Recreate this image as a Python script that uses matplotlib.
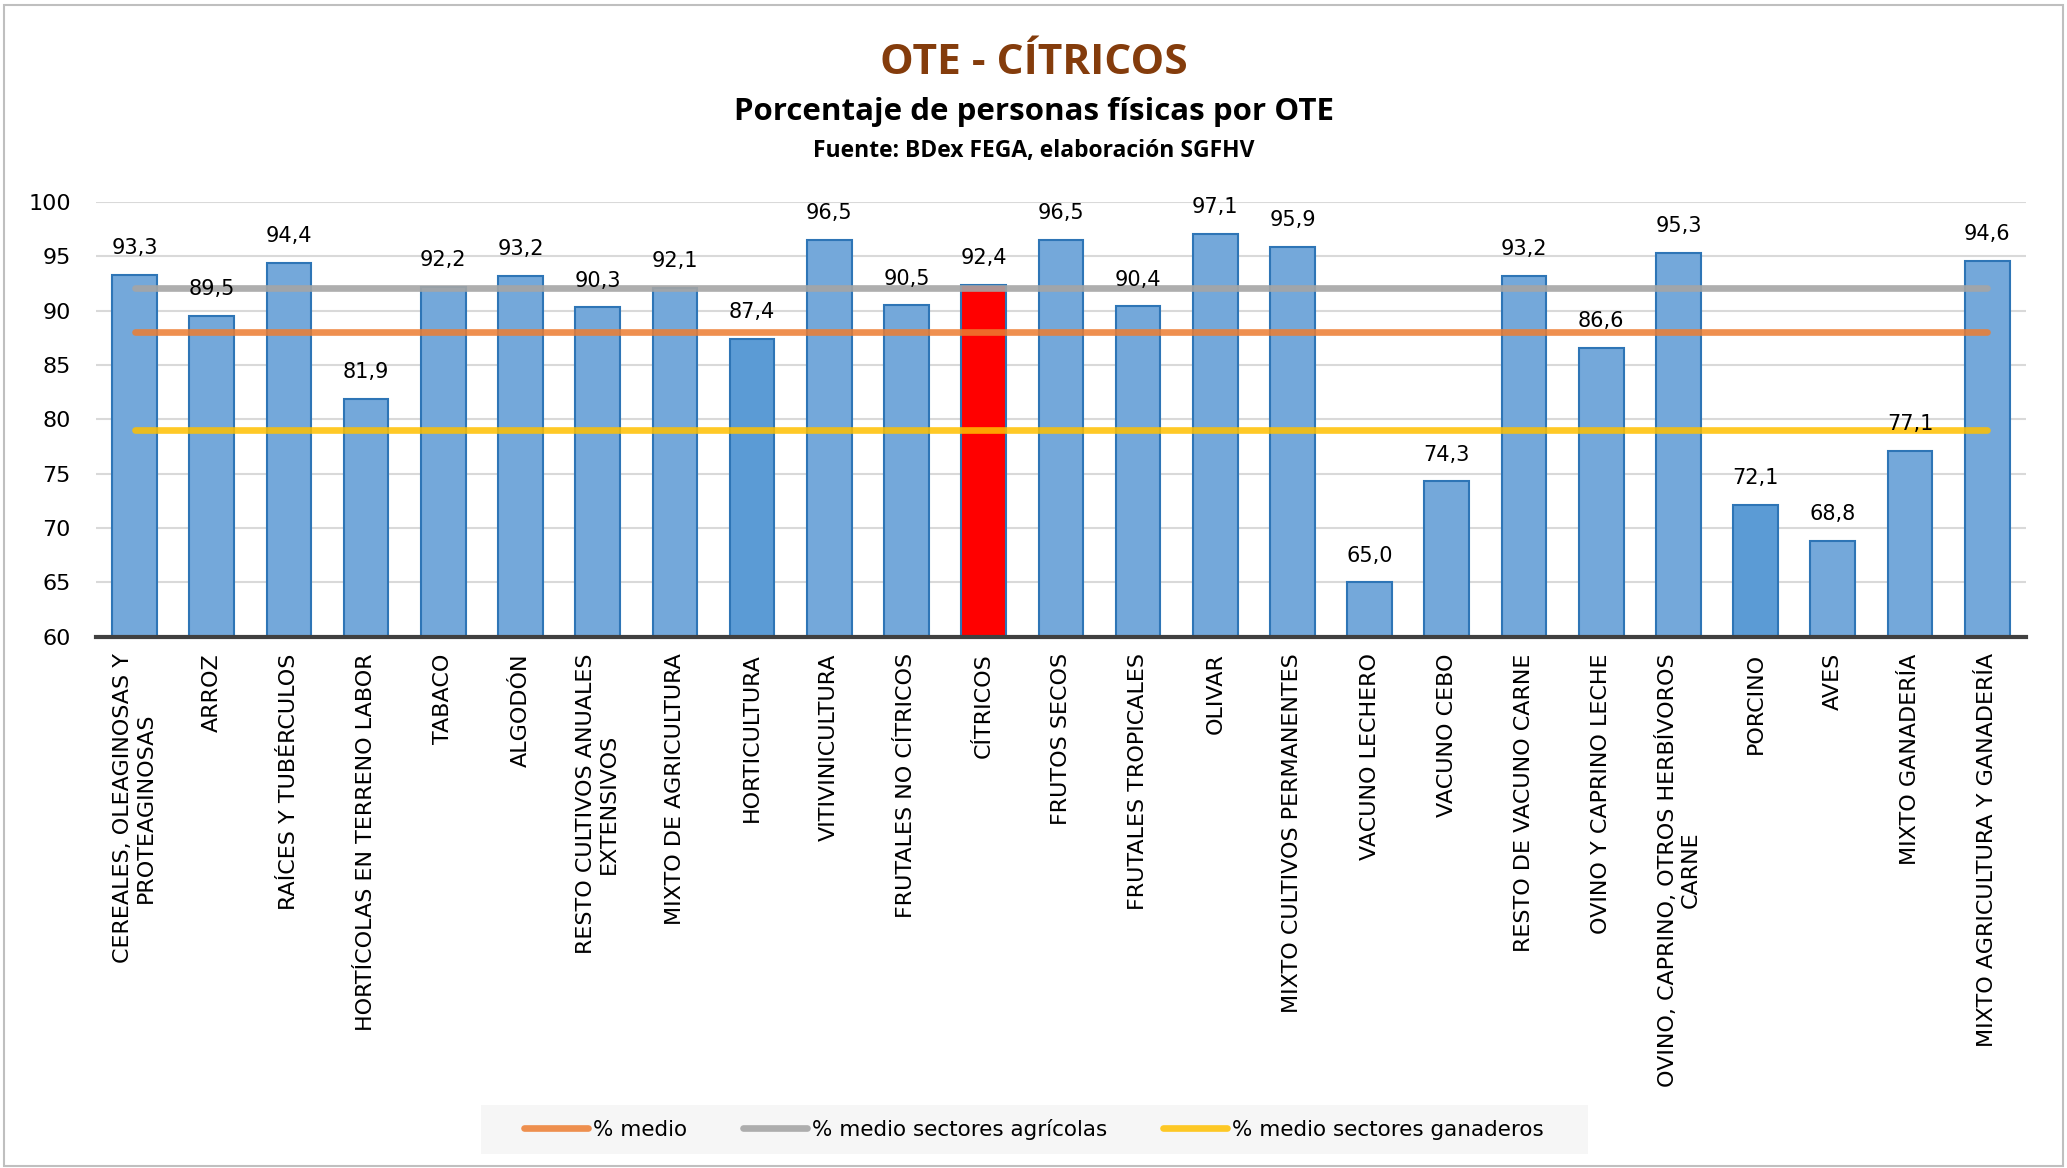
import matplotlib
matplotlib.use("Agg")
import matplotlib.pyplot as plt
from matplotlib.patches import Rectangle

# datos
categorias = [
    "CEREALES, OLEAGINOSAS Y\nPROTEAGINOSAS", "ARROZ", "RAÍCES Y TUBÉRCULOS",
    "HORTÍCOLAS EN TERRENO LABOR", "TABACO", "ALGODÓN",
    "RESTO CULTIVOS ANUALES\nEXTENSIVOS", "MIXTO DE AGRICULTURA", "HORTICULTURA",
    "VITIVINICULTURA", "FRUTALES NO CÍTRICOS", "CÍTRICOS", "FRUTOS SECOS",
    "FRUTALES TROPICALES", "OLIVAR", "MIXTO CULTIVOS PERMANENTES",
    "VACUNO LECHERO", "VACUNO CEBO", "RESTO DE VACUNO CARNE",
    "OVINO Y CAPRINO LECHE", "OVINO, CAPRINO, OTROS HERBÍVOROS\nCARNE",
    "PORCINO", "AVES", "MIXTO GANADERÍA", "MIXTO AGRICULTURA Y GANADERÍA",
]
valores = [93.3, 89.5, 94.4, 81.9, 92.2, 93.2, 90.3, 92.1, 87.4, 96.5, 90.5,
           92.4, 96.5, 90.4, 97.1, 95.9, 65.0, 74.3, 93.2, 86.6, 95.3, 72.1,
           68.8, 77.1, 94.6]
medio = 88.0
medio_agricolas = 92.1
medio_ganaderos = 79.0

colores = []
for c in categorias:
    if c == "CÍTRICOS":
        colores.append("#FF0000")
    elif c in ("HORTICULTURA", "PORCINO"):
        colores.append("#5B9BD5")
    else:
        colores.append("#74A8DA")

plt.rcParams["font.family"] = ["DejaVu Sans"]

fig = plt.figure(figsize=(20.67, 11.68), dpi=100)
ax = fig.add_axes([0.0464, 0.455, 0.9337, 0.372])

x = list(range(len(categorias)))
ax.bar(x, [v - 60 for v in valores], bottom=60, width=0.58, color=colores,
       edgecolor="#2E75B6", linewidth=1.5, zorder=2)

for xi, v in zip(x, valores):
    ax.annotate(f"{v:.1f}".replace(".", ","), (xi, v), xytext=(0, 12),
                textcoords="offset points", ha="center", va="bottom",
                fontsize=15, color="#000000", zorder=5)

n = len(categorias) - 1
ax.plot([0, n], [medio, medio], color="#ED7D31", lw=4.8, alpha=0.85,
        solid_capstyle="round", zorder=3, label="% medio")
ax.plot([0, n], [medio_agricolas, medio_agricolas], color="#A5A5A5", lw=4.8,
        alpha=0.9, solid_capstyle="round", zorder=3,
        label="% medio sectores agrícolas")
ax.plot([0, n], [medio_ganaderos, medio_ganaderos], color="#FFC000", lw=4.8,
        alpha=0.85, solid_capstyle="round", zorder=3,
        label="% medio sectores ganaderos")

ax.set_ylim(60, 100)
ax.set_xlim(-0.5, len(categorias) - 0.5)
ax.set_yticks(range(60, 101, 5))
ax.yaxis.grid(True, color="#D9D9D9", lw=1.5, zorder=0)
ax.set_axisbelow(True)
for s in ("left", "right", "top"):
    ax.spines[s].set_visible(False)
ax.spines["bottom"].set_color("#404040")
ax.spines["bottom"].set_linewidth(3)
ax.spines["bottom"].set_zorder(4)
ax.tick_params(axis="y", length=0, labelsize=16, pad=18)
ax.tick_params(axis="x", length=0, pad=12)
ax.set_xticks(x)
ax.set_xticklabels(categorias, rotation=90, fontsize=16, ha="center",
                   va="top", multialignment="center")

titulos = ["Open Sans", "DejaVu Sans"]
fig.text(0.5, 0.946, "OTE - CÍTRICOS", ha="center", va="center",
         fontsize=30.5, fontweight="bold", color="#843C0C", family=titulos)
fig.text(0.5, 0.904, "Porcentaje de personas físicas por OTE", ha="center",
         va="center", fontsize=22.5, fontweight="bold", family=titulos)
fig.text(0.5, 0.8705, "Fuente: BDex FEGA, elaboración SGFHV", ha="center",
         va="center", fontsize=16.5, fontweight="bold", family=titulos)

# fondo de la leyenda
fig.patches.append(Rectangle((0.2328, 0.0124), 0.5357, 0.0418,
                             transform=fig.transFigure, facecolor="#F6F6F6",
                             edgecolor="none", zorder=0))
fig.legend(loc="center", bbox_to_anchor=(0.5, 0.0333), ncol=3,
           fontsize=15.5, frameon=False, handlelength=3,
           handletextpad=0.2, columnspacing=2.6)

fig.patches.append(Rectangle((0.002, 0.002), 0.996, 0.994,
                             transform=fig.transFigure, fill=False,
                             edgecolor="#BFBFBF", lw=1.5))

plt.savefig("out.png", dpi=100)
